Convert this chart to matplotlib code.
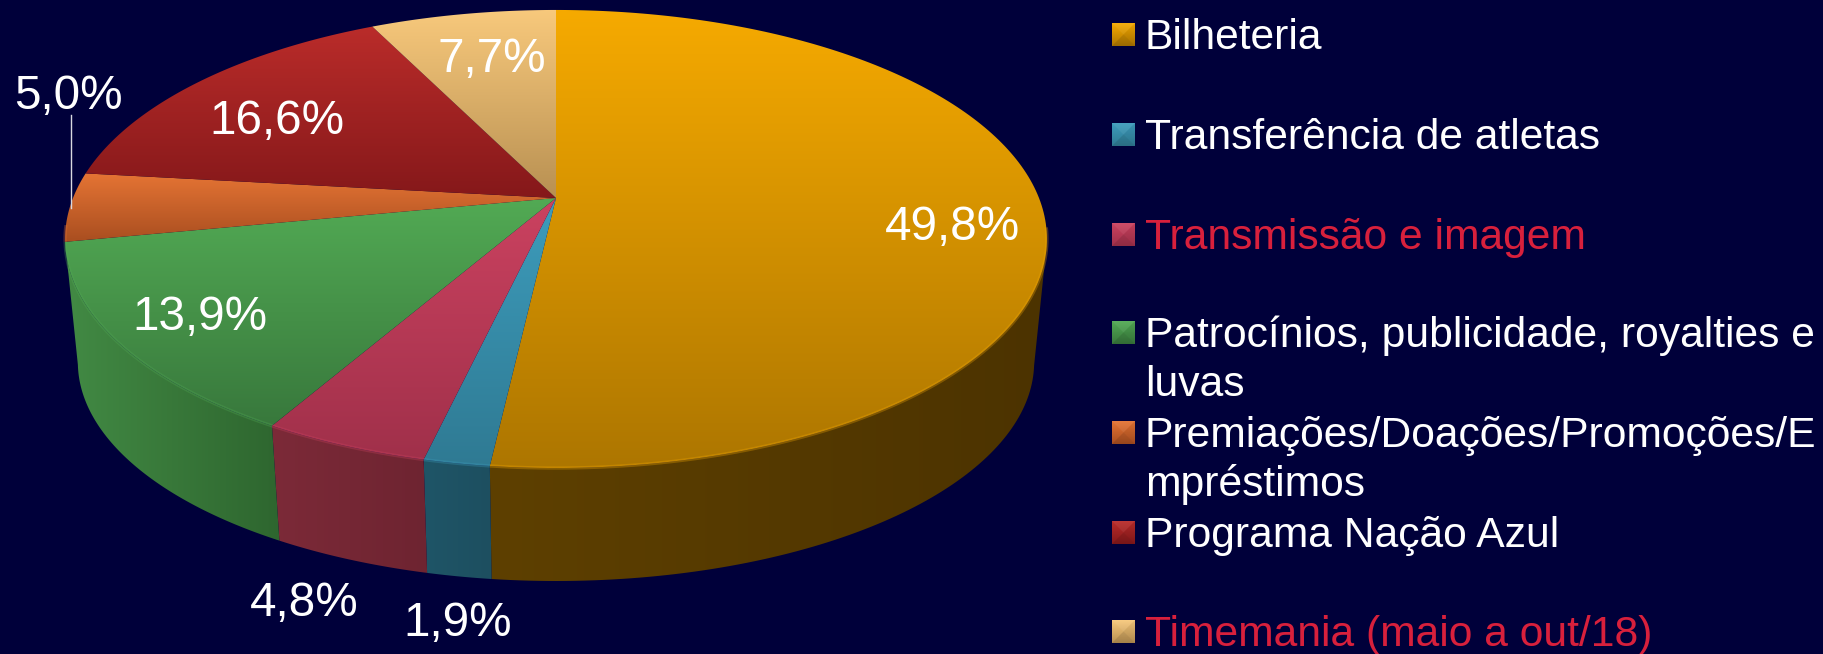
# pie chart of revenue shares, tilted 3D look on dark background
import numpy as np
import matplotlib
matplotlib.use('Agg')
import matplotlib.pyplot as plt
from matplotlib.colors import to_rgb
from matplotlib.patches import Polygon

categories = ['Bilheteria', 'Transferência de atletas', 'Transmissão e imagem',
              'Patrocínios, publicidade, royalties e\nluvas',
              'Premiações/Doações/Promoções/E\nmpréstimos',
              'Programa Nação Azul', 'Timemania (maio a out/18)']
values = [49.8, 1.9, 4.8, 13.9, 5.0, 16.6, 7.7]

top_light = ['#f6aa00', '#3d9cbc', '#cb4260', '#52aa54', '#e57434', '#ba2c2a', '#f8c97c']
top_dark = ['#ad7600', '#2f7a93', '#a0304a', '#38783c', '#a94e20', '#85181a', '#b89052']
side_left = ['#5e4000', '#1f5567', '#7c2a38', '#428a44', '#8a4418', '#6e1414', '#8a6c3c']
side_right = ['#4c3300', '#1d4f60', '#6e2431', '#2e662f', '#6e3612', '#5a1010', '#705830']
text_colors = ['white', 'white', '#d8203c', 'white', 'white', 'white', '#d8203c']

label_x = [952, 458, 304, 200, 68, 277, 492]
label_y = [240.5, 636.5, 615.5, 329.5, 109, 133.5, 72]
legend_y = [[49], [149], [249], [347, 396], [447, 496], [547], [646]]

BG = '#00003a'
CX, APEX_Y, K, B, A = 556, 198, 0.179, 221.7, 483
RIM_Y = 240
SX, SY, FLOOR_Y = 0.974, 0.956, 363


def project(theta):
    # theta in degrees, clockwise from the top of the pie
    t = np.radians(theta)
    u, v = np.sin(t), np.cos(t)
    return CX + A * u / (1 + K * v), APEX_Y - B * v / (1 + K * v)


def floor(x, y):
    return CX + SX * (x - CX), FLOOR_Y + SY * (y - RIM_Y)


def back_angle(share):
    # the 3D view squeezes the slices on the left a little
    return 3.6 * share * min(0.966, 0.94 + 0.0006 * share)


def gradient(ax, poly, c0, c1, horizontal=False):
    pts = np.asarray(poly)
    x0, y0 = pts.min(axis=0)
    x1, y1 = pts.max(axis=0)
    f = np.linspace(0, 1, 256)[:, None, None]
    img = (1 - f) * np.array(to_rgb(c0)) + f * np.array(to_rgb(c1))
    if horizontal:
        img = img.transpose(1, 0, 2)
    im = ax.imshow(img, extent=(x0, x1, y1, y0), origin='upper', aspect='auto',
                   interpolation='bilinear', zorder=2)
    patch = Polygon(pts, closed=True, transform=ax.transData, fc='none', ec='none')
    ax.add_patch(patch)
    im.set_clip_path(patch)


fig = plt.figure(figsize=(18.23, 6.54), dpi=100, facecolor=BG)
ax = fig.add_axes([0, 0, 1, 1], facecolor=BG)
plt.rcParams['font.family'] = ['Liberation Sans', 'DejaVu Sans']

# slice borders, counted back from the top going anticlockwise
edges = [0.0] + [360 - back_angle(sum(values[i:])) for i in range(1, len(values))] + [360.0]

# walls first, the top face covers whatever is behind it
for i in range(len(values)):
    ang = np.linspace(edges[i], edges[i + 1], 200)
    x, y = project(ang)
    keep = y >= RIM_Y
    if keep.sum() < 2 or np.ptp(x[keep]) < 5:
        continue
    xb, yb = floor(x[keep], y[keep])
    wall = np.r_[np.c_[x[keep], y[keep]], np.c_[xb, yb][::-1]]
    gradient(ax, wall, side_left[i], side_right[i], horizontal=True)

for i in range(len(values)):
    ang = np.linspace(edges[i], edges[i + 1], 200)
    x, y = project(ang)
    face = np.r_[[[CX, APEX_Y]], np.c_[x, y]]
    gradient(ax, face, top_light[i], top_dark[i])
    # soft bevel along the front rim
    front = y >= RIM_Y - 15
    if front.sum() > 1:
        ax.plot(x[front], y[front], color=top_light[i], lw=2.4, alpha=0.3, zorder=2.3,
                solid_capstyle='butt')

# leader line for the small orange slice
ax.plot([71, 71], [115, 208], color='#d8d8e0', lw=1, zorder=3)

for v, lx, ly in zip(values, label_x, label_y):
    ax.text(lx, ly, f'{v:.1f}%'.replace('.', ','), color='white', fontsize=34.3,
            ha='center', va='baseline', zorder=4)

for i, name in enumerate(categories):
    for line, ly in zip(name.split('\n'), legend_y[i]):
        ax.text(1145, ly, line, color=text_colors[i], fontsize=30.7, ha='left',
                va='baseline', zorder=4)
    # little bevelled square in the slice colour
    ym = legend_y[i][0] - 14.5
    x0, x1, y0, y1 = 1112, 1135, ym - 11.5, ym + 11.5
    box = [(x0, y0), (x1, y0), (x1, y1), (x0, y1)]
    gradient(ax, box, top_light[i], top_dark[i])
    mid = (x0 + x1) / 2, (y0 + y1) / 2
    ax.add_patch(Polygon([(x0, y0), (x1, y0), mid], fc='white', ec='none', alpha=0.06, zorder=2.5))
    ax.add_patch(Polygon([(x0, y1), (x1, y1), mid], fc='black', ec='none', alpha=0.1, zorder=2.5))
    ax.add_patch(Polygon([(x1, y0), (x1, y1), mid], fc='black', ec='none', alpha=0.05, zorder=2.5))

ax.set_xlim(0, 1823)
ax.set_ylim(654, 0)
ax.axis('off')

fig.savefig('out.png', dpi=100, facecolor=BG)
